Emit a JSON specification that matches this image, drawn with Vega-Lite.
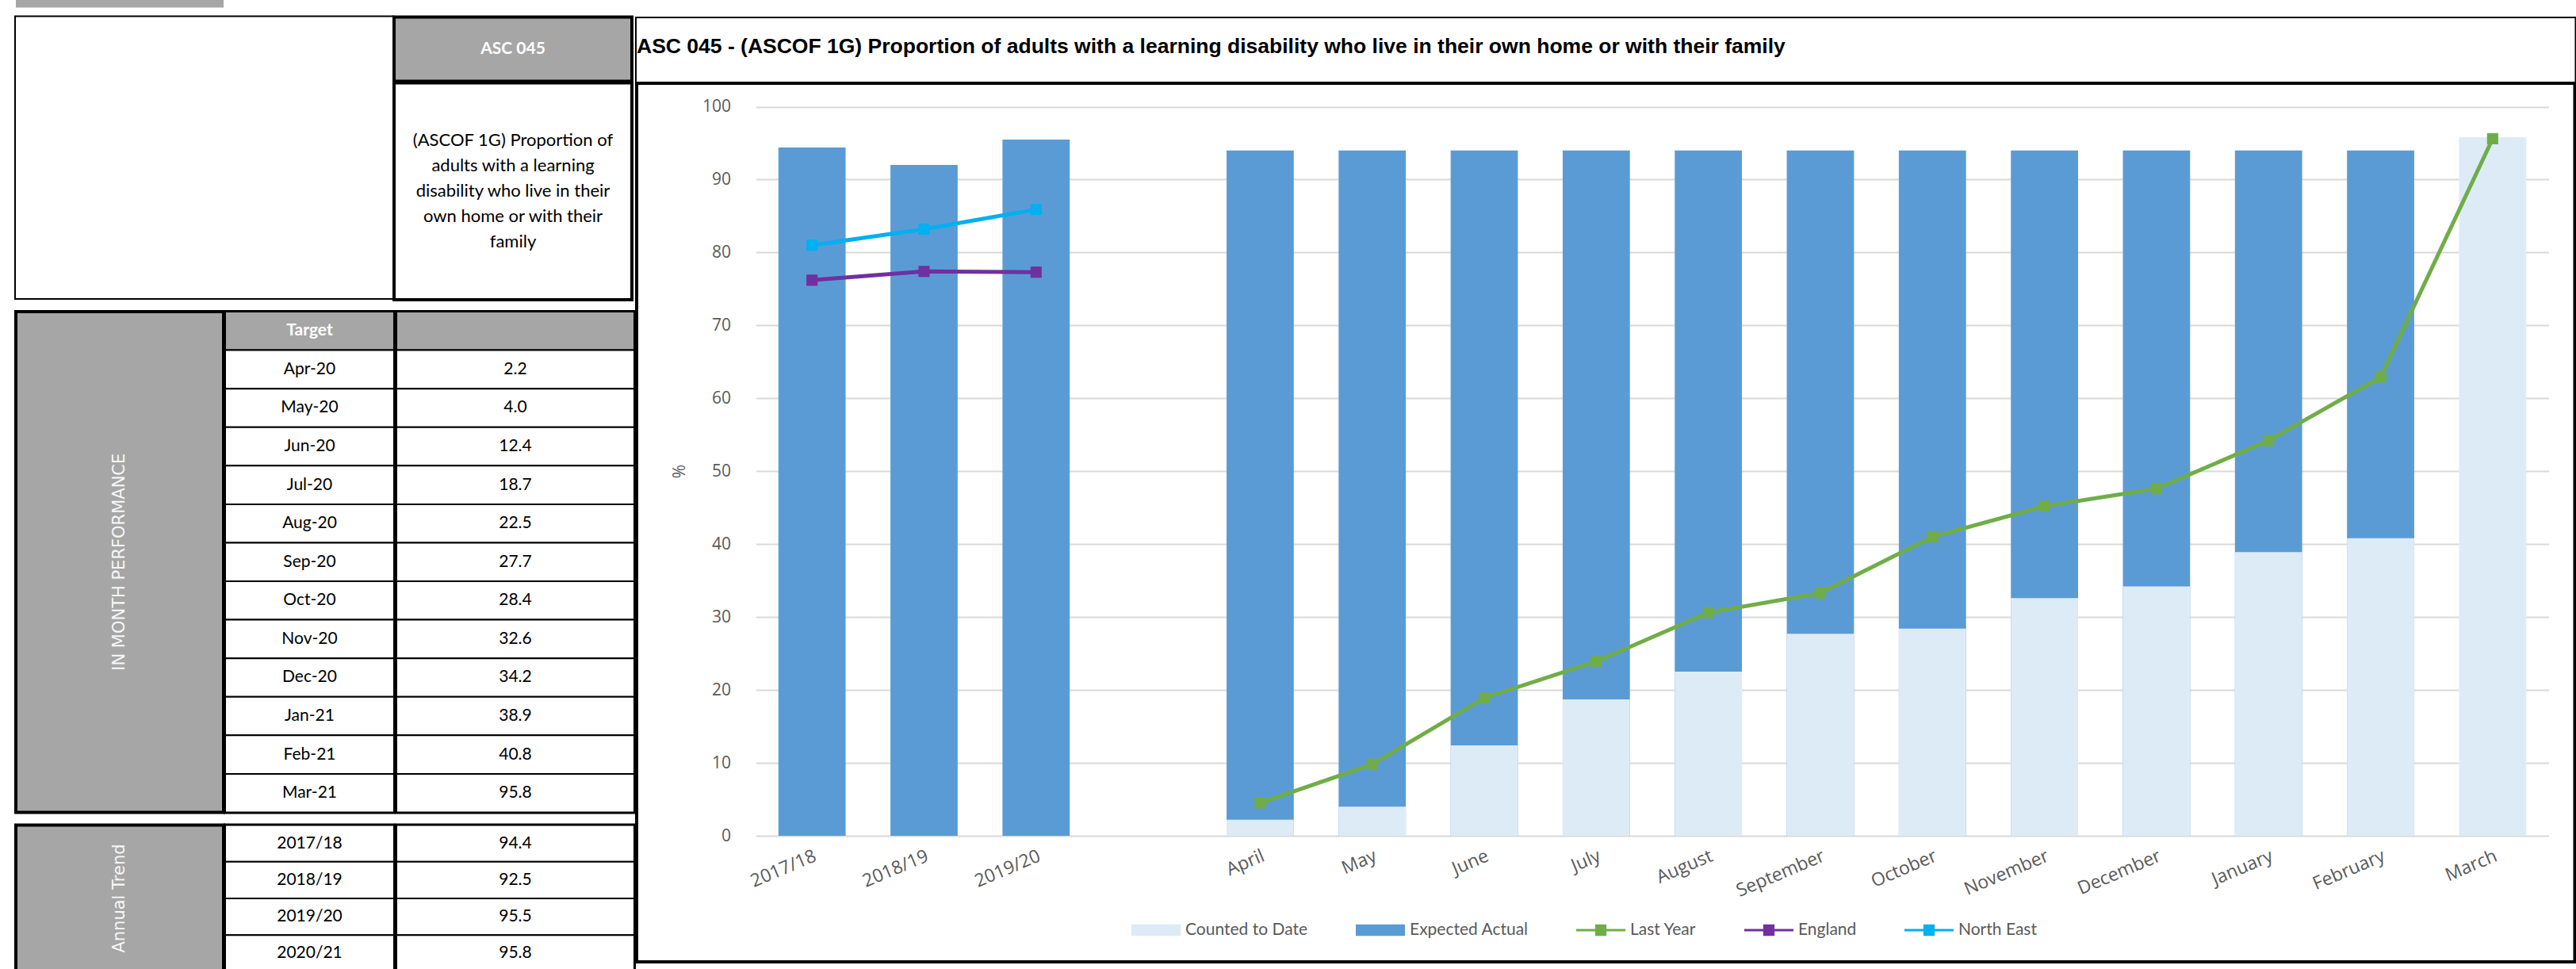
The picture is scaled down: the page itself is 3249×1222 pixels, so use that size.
{
  "$schema": "https://vega.github.io/schema/vega-lite/v6.json",
  "background": "white",
  "padding": {"left": 18, "top": 0, "right": 0, "bottom": 0},
  "autosize": {"type": "pad"},
  "config": {"view": {"stroke": null}},
  "datasets": {
    "heading": [
      {
        "code": "ASC 045",
        "desc": ["(ASCOF 1G) Proportion of", "adults with a learning", "disability who live in their", "own home or with their", "family"],
        "inMonth": "IN MONTH PERFORMANCE",
        "annual": "Annual Trend"
      }
    ],
    "monthTable": [
      {"row": "Target", "kind": "header"},
      {"row": "Apr-20", "kind": "body", "value": 2.2},
      {"row": "May-20", "kind": "body", "value": 4.0},
      {"row": "Jun-20", "kind": "body", "value": 12.4},
      {"row": "Jul-20", "kind": "body", "value": 18.7},
      {"row": "Aug-20", "kind": "body", "value": 22.5},
      {"row": "Sep-20", "kind": "body", "value": 27.7},
      {"row": "Oct-20", "kind": "body", "value": 28.4},
      {"row": "Nov-20", "kind": "body", "value": 32.6},
      {"row": "Dec-20", "kind": "body", "value": 34.2},
      {"row": "Jan-21", "kind": "body", "value": 38.9},
      {"row": "Feb-21", "kind": "body", "value": 40.8},
      {"row": "Mar-21", "kind": "body", "value": 95.8}
    ],
    "yearTable": [
      {"row": "2017/18", "value": 94.4},
      {"row": "2018/19", "value": 92.5},
      {"row": "2019/20", "value": 95.5},
      {"row": "2020/21", "value": 95.8}
    ],
    "bars": [
      {"cat": "2017/18", "series": "Expected Actual", "value": 94.4},
      {"cat": "2018/19", "series": "Expected Actual", "value": 92.0},
      {"cat": "2019/20", "series": "Expected Actual", "value": 95.5},
      {"cat": "April", "series": "Expected Actual", "value": 94.0},
      {"cat": "May", "series": "Expected Actual", "value": 94.0},
      {"cat": "June", "series": "Expected Actual", "value": 94.0},
      {"cat": "July", "series": "Expected Actual", "value": 94.0},
      {"cat": "August", "series": "Expected Actual", "value": 94.0},
      {"cat": "September", "series": "Expected Actual", "value": 94.0},
      {"cat": "October", "series": "Expected Actual", "value": 94.0},
      {"cat": "November", "series": "Expected Actual", "value": 94.0},
      {"cat": "December", "series": "Expected Actual", "value": 94.0},
      {"cat": "January", "series": "Expected Actual", "value": 94.0},
      {"cat": "February", "series": "Expected Actual", "value": 94.0},
      {"cat": "April", "series": "Counted to Date", "value": 2.2},
      {"cat": "May", "series": "Counted to Date", "value": 4.0},
      {"cat": "June", "series": "Counted to Date", "value": 12.4},
      {"cat": "July", "series": "Counted to Date", "value": 18.7},
      {"cat": "August", "series": "Counted to Date", "value": 22.5},
      {"cat": "September", "series": "Counted to Date", "value": 27.7},
      {"cat": "October", "series": "Counted to Date", "value": 28.4},
      {"cat": "November", "series": "Counted to Date", "value": 32.6},
      {"cat": "December", "series": "Counted to Date", "value": 34.2},
      {"cat": "January", "series": "Counted to Date", "value": 38.9},
      {"cat": "February", "series": "Counted to Date", "value": 40.8},
      {"cat": "March", "series": "Counted to Date", "value": 95.8}
    ],
    "lines": [
      {"cat": "April", "series": "Last Year", "value": 4.5},
      {"cat": "May", "series": "Last Year", "value": 9.8},
      {"cat": "June", "series": "Last Year", "value": 18.9},
      {"cat": "July", "series": "Last Year", "value": 23.9},
      {"cat": "August", "series": "Last Year", "value": 30.6},
      {"cat": "September", "series": "Last Year", "value": 33.3},
      {"cat": "October", "series": "Last Year", "value": 41.0},
      {"cat": "November", "series": "Last Year", "value": 45.2},
      {"cat": "December", "series": "Last Year", "value": 47.6},
      {"cat": "January", "series": "Last Year", "value": 54.2},
      {"cat": "February", "series": "Last Year", "value": 62.9},
      {"cat": "March", "series": "Last Year", "value": 95.6},
      {"cat": "2017/18", "series": "England", "value": 76.2},
      {"cat": "2018/19", "series": "England", "value": 77.4},
      {"cat": "2019/20", "series": "England", "value": 77.3},
      {"cat": "2017/18", "series": "North East", "value": 81.0},
      {"cat": "2018/19", "series": "North East", "value": 83.2},
      {"cat": "2019/20", "series": "North East", "value": 85.9}
    ]
  },
  "spacing": -4,
  "hconcat": [
    {
      "spacing": 9.5,
      "vconcat": [
        {
          "width": 262, "height": 9.5,
          "view": {"stroke": null},
          "data": {"values": [{}]},
          "mark": {"type": "rect", "color": "#A6A6A6"}
        },
        {
          "spacing": -4,
          "hconcat": [
            {
              "width": 475, "height": 354.5,
              "view": {"stroke": "black", "strokeWidth": 4, "fill": "white"},
              "data": {"values": [{}]},
              "mark": {"type": "rect", "color": "white"}
            },
            {
              "spacing": -4,
              "vconcat": [
                {
                  "width": 300, "height": 81,
                  "view": {"stroke": "black", "strokeWidth": 4, "fill": "#A6A6A6"},
                  "data": {"name": "heading"},
                  "mark": {"type": "text", "font": "Lato", "fontSize": 21, "fontWeight": "bold", "color": "white"},
                  "encoding": {"text": {"field": "code", "type": "nominal"}}
                },
                {
                  "width": 300, "height": 273.5,
                  "view": {"stroke": "black", "strokeWidth": 4, "fill": "white"},
                  "data": {"name": "heading"},
                  "mark": {"type": "text", "font": "Lato", "fontSize": 22, "lineHeight": 32, "dy": -64, "color": "black"},
                  "encoding": {"text": {"field": "desc", "type": "nominal"}}
                }
              ]
            }
          ]
        },
        {
          "spacing": -4,
          "hconcat": [
            {
              "width": 262, "height": 631.5,
              "view": {"stroke": "black", "strokeWidth": 4, "fill": "#A6A6A6"},
              "data": {"name": "heading"},
              "mark": {"type": "text", "angle": 270, "font": "DejaVu Sans", "fontSize": 21, "color": "#F7F7F7"},
              "encoding": {"text": {"field": "inMonth", "type": "nominal"}}
            },
            {
              "width": 213, "height": 631.5,
              "view": {"stroke": "black", "strokeWidth": 4, "fill": "white"},
              "data": {"name": "monthTable"},
              "encoding": {
                "y": {"field": "row", "type": "nominal", "sort": null, "axis": null,
                      "scale": {"type": "band", "paddingInner": 0, "paddingOuter": 0,
                                "domain": ["Target", "Apr-20", "May-20", "Jun-20", "Jul-20", "Aug-20", "Sep-20", "Oct-20", "Nov-20", "Dec-20", "Jan-21", "Feb-21", "Mar-21"]}}
              },
              "layer": [
                {"transform": [{"filter": "datum.kind == 'header'"}], "mark": {"type": "rect", "fill": "#A6A6A6", "stroke": "black", "strokeWidth": 2}},
                {"transform": [{"filter": "datum.kind == 'body'"}], "mark": {"type": "rect", "fill": "white", "stroke": "black", "strokeWidth": 2}},
                {"transform": [{"filter": "datum.kind == 'header'"}], "mark": {"type": "text", "font": "Lato", "fontSize": 21, "fontWeight": "bold", "color": "white"}, "encoding": {"text": {"field": "row", "type": "nominal"}}},
                {"transform": [{"filter": "datum.kind == 'body'"}], "mark": {"type": "text", "font": "Lato", "fontSize": 21, "color": "black"}, "encoding": {"text": {"field": "row", "type": "nominal"}}}
              ]
            },
            {
              "width": 300, "height": 631.5,
              "view": {"stroke": "black", "strokeWidth": 4, "fill": "white"},
              "data": {"name": "monthTable"},
              "encoding": {
                "y": {"field": "row", "type": "nominal", "sort": null, "axis": null,
                      "scale": {"type": "band", "paddingInner": 0, "paddingOuter": 0,
                                "domain": ["Target", "Apr-20", "May-20", "Jun-20", "Jul-20", "Aug-20", "Sep-20", "Oct-20", "Nov-20", "Dec-20", "Jan-21", "Feb-21", "Mar-21"]}}
              },
              "layer": [
                {"transform": [{"filter": "datum.kind == 'header'"}], "mark": {"type": "rect", "fill": "#A6A6A6", "stroke": "black", "strokeWidth": 2}},
                {"transform": [{"filter": "datum.kind == 'body'"}], "mark": {"type": "rect", "fill": "white", "stroke": "black", "strokeWidth": 2}},
                {"transform": [{"filter": "datum.kind == 'body'"}], "mark": {"type": "text", "font": "Lato", "fontSize": 21, "color": "black"}, "encoding": {"text": {"field": "value", "type": "quantitative", "format": ".1f"}}}
              ]
            }
          ]
        },
        {
          "spacing": -4,
          "hconcat": [
            {
              "width": 262, "height": 185,
              "view": {"stroke": "black", "strokeWidth": 4, "fill": "#A6A6A6"},
              "data": {"name": "heading"},
              "mark": {"type": "text", "angle": 270, "font": "DejaVu Sans", "fontSize": 21, "color": "#F7F7F7"},
              "encoding": {"text": {"field": "annual", "type": "nominal"}}
            },
            {
              "width": 213, "height": 185,
              "view": {"stroke": "black", "strokeWidth": 4, "fill": "white"},
              "data": {"name": "yearTable"},
              "encoding": {
                "y": {"field": "row", "type": "nominal", "sort": null, "axis": null,
                      "scale": {"type": "band", "paddingInner": 0, "paddingOuter": 0}}
              },
              "layer": [
                {"mark": {"type": "rect", "fill": "white", "stroke": "black", "strokeWidth": 2}},
                {"mark": {"type": "text", "font": "Lato", "fontSize": 21, "color": "black"}, "encoding": {"text": {"field": "row", "type": "nominal"}}}
              ]
            },
            {
              "width": 300, "height": 185,
              "view": {"stroke": "black", "strokeWidth": 4, "fill": "white"},
              "data": {"name": "yearTable"},
              "encoding": {
                "y": {"field": "row", "type": "nominal", "sort": null, "axis": null,
                      "scale": {"type": "band", "paddingInner": 0, "paddingOuter": 0}}
              },
              "layer": [
                {"mark": {"type": "rect", "fill": "white", "stroke": "black", "strokeWidth": 2}},
                {"mark": {"type": "text", "font": "Lato", "fontSize": 21, "color": "black"}, "encoding": {"text": {"field": "value", "type": "quantitative", "format": ".1f"}}}
              ]
            }
          ]
        }
      ]
    },
    {
      "spacing": -4,
      "vconcat": [
        {
          "width": 2444.5, "height": 23,
          "view": {"stroke": null},
          "data": {"values": [{}]},
          "mark": {"type": "rect", "color": "white"}
        },
        {
          "width": 2444.5, "height": 80,
          "view": {"stroke": "black", "strokeWidth": 4, "fill": "white"},
          "data": {"values": [{}]},
          "mark": {"type": "rect", "color": "white"},
          "title": {
            "text": "ASC 045 - (ASCOF 1G) Proportion of adults with a learning disability who live in their own home or with their family",
            "anchor": "start", "frame": "group", "orient": "top", "offset": -62, "baseline": "middle",
            "font": "Liberation Sans", "fontSize": 26.5, "fontWeight": "bold", "color": "black", "dx": 0
          }
        },
        {
          "width": 2444.5, "height": 1108,
          "view": {"stroke": "black", "strokeWidth": 4, "fill": "white"},
          "encoding": {
            "x": {
              "field": "cat", "type": "nominal", "sort": null,
              "scale": {
                "domain": ["2017/18", "2018/19", "2019/20", " ", "April", "May", "June", "July", "August", "September", "October", "November", "December", "January", "February", "March"],
                "range": [150.5, 2411.5], "paddingInner": 0.4, "paddingOuter": 0.2
              },
              "axis": {
                "title": null, "orient": "bottom", "offset": -159, "domain": false, "ticks": false, "grid": false,
                "labelAngle": -23, "labelFont": "Open Sans", "labelFontSize": 23, "labelColor": "#595959",
                "labelPadding": 14, "labelOverlap": false
              }
            },
            "y": {
              "field": "value", "type": "quantitative", "stack": null,
              "scale": {"domain": [0, 100], "range": [949, 29.5], "nice": false},
              "axis": {
                "title": "%", "offset": -150.5, "domain": false, "ticks": false,
                "values": [0, 10, 20, 30, 40, 50, 60, 70, 80, 90, 100],
                "grid": true, "gridColor": "#D9D9D9", "gridWidth": 2,
                "labelFont": "Open Sans", "labelFontSize": 21, "labelColor": "#595959", "labelPadding": 32,
                "titleFont": "Open Sans", "titleFontSize": 21, "titleFontWeight": "normal", "titleColor": "#595959",
                "titleX": -96, "titleY": 489, "titleAngle": -90, "titleAlign": "center", "titleBaseline": "middle"
              }
            },
            "color": {
              "field": "series", "type": "nominal",
              "scale": {
                "domain": ["Counted to Date", "Expected Actual", "Last Year", "England", "North East"],
                "range": ["#DDEBF7", "#5B9BD5", "#70AD47", "#7030A0", "#00B0F0"]
              },
              "legend": {
                "title": null, "orient": "none", "legendX": 1407, "legendY": 1142, "direction": "horizontal",
                "symbolType": "M-1,-0.23H1V0.23H-1Z", "symbolSize": 3844, "symbolStrokeWidth": 0,
                "labelFont": "Lato", "labelFontSize": 21, "labelColor": "#595959", "labelOffset": 6,
                "columnPadding": 60, "padding": 0,
                "encode": {
                  "symbols": {
                    "update": {
                      "shape": {"signal": "(datum.value == 'Counted to Date' || datum.value == 'Expected Actual') ? 'M-1,-0.23H1V0.23H-1Z' : 'M-1,-0.05H1V0.05H-1ZM-0.23,-0.23H0.23V0.23H-0.23Z'"},
                      "fill": {"scale": "color", "field": "value"},
                      "stroke": {"value": "transparent"},
                      "opacity": {"value": 1}
                    }
                  }
                }
              }
            }
          },
          "layer": [
            {
              "data": {"name": "bars"},
              "transform": [{"filter": "datum.series == 'Expected Actual'"}],
              "mark": {"type": "bar"}
            },
            {
              "data": {"name": "bars"},
              "transform": [{"filter": "datum.series == 'Counted to Date'"}],
              "mark": {"type": "bar"}
            },
            {
              "data": {"name": "lines"},
              "mark": {"type": "line", "strokeWidth": 5, "point": {"filled": true, "shape": "square", "size": 200}},
              "encoding": {"order": {"value": null}}
            }
          ]
        }
      ]
    }
  ]
}
